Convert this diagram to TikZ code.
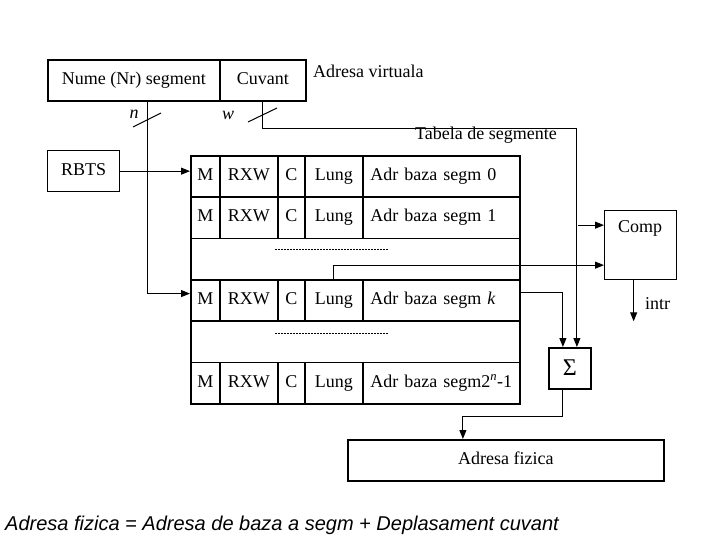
\documentclass[tikz,border=0pt]{standalone}
\usepackage{fontspec}
\setmainfont{Liberation Serif}
\newfontfamily\arialf{Liberation Sans}
\usetikzlibrary{arrows.meta,calc}
\begin{document}
\begin{tikzpicture}[x=1pt,y=-1pt,
  box/.style={draw, line width=1.8pt, inner sep=0pt, anchor=north west, text height=12pt, text depth=4pt, font=\fontsize{18}{20}\selectfont},
  thinbox/.style={box, line width=1.3pt},
  conn/.style={line width=1pt},
  arr/.style={line width=1pt, -{Triangle[length=9pt,width=7pt]}},
  lbl/.style={font=\fontsize{18}{20}\selectfont, inner sep=0pt},
  dotline/.style={line width=0.8pt, dash pattern=on 2pt off 1pt}]
\useasboundingbox (0,0) rectangle (720,540);
% virtual address
\node[box, minimum width=172, minimum height=41] (nume) at (47,59) {Nume (Nr) segment};
\node[box, minimum width=86, minimum height=41] (cuv) at (219,59) {Cuvant};
\node[lbl, anchor=west] (va) at (313,71) {Adresa virtuala};
% RBTS
\node[thinbox, minimum width=72, minimum height=41] (rbts) at (47,150) {RBTS};
% table
\node[lbl, anchor=west] (tab) at (415,135) {Tabela de segmente};
\foreach \r/\y/\t in {0/155/{Adr baza segm 0}, 1/196.33/{Adr baza segm 1}, k/279/{Adr baza segm \textit{k}}, l/361.67/{Adr baza segm2\textsuperscript{\textit{n}}-1}} {
  \node[box, minimum width=29, minimum height=41.33] (m\r) at (190,\y) {M};
  \node[box, minimum width=58, minimum height=41.33] (rxw\r) at (219,\y) {RXW};
  \node[box, minimum width=27, minimum height=41.33] (c\r) at (277,\y) {C};
  \node[box, minimum width=58, minimum height=41.33] (lung\r) at (304,\y) {Lung};
  \node[box, minimum width=157, minimum height=41.33, text width=142, align=left] (adr\r) at (362,\y) {\t};
}
\node[box, minimum width=329, minimum height=41.33] (gapa) at (190,237.67) {};
\node[box, minimum width=329, minimum height=41.33] (gapb) at (190,320.33) {};
\draw[dotline] (275,249) -- (388,249);
\draw[dotline] (275,333) -- (388,333);
% Comp, Sigma, physical address
\node[thinbox, minimum width=72, minimum height=69] (comp) at (604,210) {};
\node[lbl] (comptxt) at (640,228) {Comp};
\node[box, minimum width=42, minimum height=41, font=\fontsize{24}{26}\selectfont, text height=16pt, text depth=1pt] (sum) at (548,347) {Σ};
\node[box, minimum width=316, minimum height=41] (af) at (347,439) {Adresa fizica};
% connectors
\draw[arr] (rbts.east) -- (rbts.east -| m0.west);
\draw[arr] ($(nume.south west)+(100,0)$) |- ($(mk.west)+(0,-7)$);
\draw[arr] (cuv.south) -- ++(0,27) coordinate (wturn) -| ($(sum.north)+(7,0)$) ;
\coordinate (cina) at ($(comp.west)+(0,-20)$);
\coordinate (cinb) at ($(comp.west)+(0,20)$);
\draw[arr] (cina -| sum.north east) ++(-14,0) -- (cina);
\draw[arr] (lungk.north) |- (cinb);
\draw[arr] ($(adrk.east)+(0,-8)$) -| ($(sum.north)+(-7,0)$);
\draw[arr] ($(sum.south)+(-7,0)$) -- ++(0,27) -| ($(af.north)+(-43,0)$);
\draw[arr] ($(comp.south)+(-7,0)$) -- ++(0,41) coordinate (intrend);
\node[lbl, anchor=west] (intr) at (645,304) {intr};
% bus width slashes
\draw[conn] (133,127) -- (161,113);
\draw[conn] (248,122) -- (277,108);
\node[lbl, font=\fontsize{18}{20}\selectfont\itshape] (nl) at (134,114) {n};
\node[lbl, font=\fontsize{18}{20}\selectfont\itshape] (wl) at (228,115) {w};
% formula
\node[anchor=west, inner sep=0pt, font=\arialf\itshape\fontsize{20}{24}\selectfont] (form) at (5,525) {Adresa fizica = Adresa de baza a segm + Deplasament cuvant};
\end{tikzpicture}
\end{document}
